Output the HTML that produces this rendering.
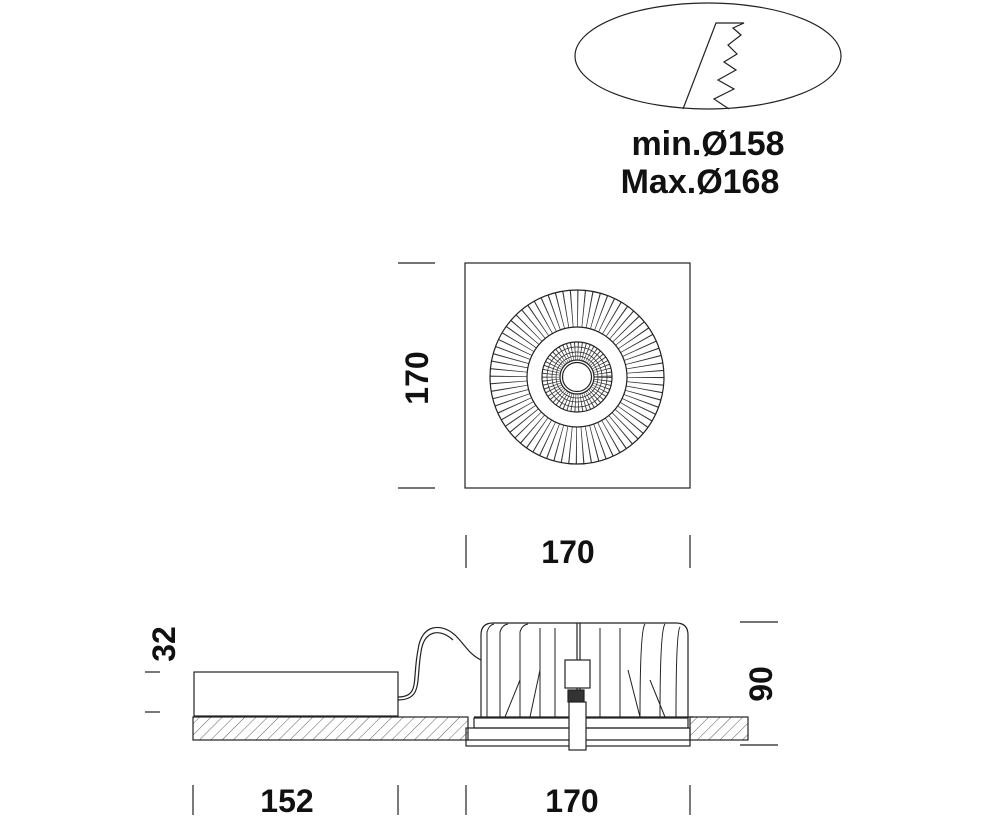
<!DOCTYPE html>
<html><head><meta charset="utf-8"><style>
html,body{margin:0;padding:0;background:#fff;width:986px;height:835px;overflow:hidden}
svg{display:block}
text{font-family:"Liberation Sans",sans-serif;font-weight:bold;fill:#111}
</style></head><body>
<svg width="986" height="835" viewBox="0 0 986 835" xmlns="http://www.w3.org/2000/svg">
<defs>
<pattern id="h" width="8" height="8" patternUnits="userSpaceOnUse" patternTransform="rotate(45)">
<line x1="0" y1="0" x2="0" y2="8" stroke="#333" stroke-width="0.8"/>
</pattern>
</defs>
<g fill="none" stroke="#222" stroke-width="1.2">
<ellipse cx="708" cy="56" rx="133" ry="53"/>
<polyline points="683,109 716,23 744,23 733,28 741,35 728,45 737,54 724,62 736,70 718,80 734,89 714,99 729,109"/>
<rect x="465" y="263" width="225" height="225"/>
<circle cx="577" cy="377" r="68.5" stroke-width="37" stroke-dasharray="0.9 5.08" stroke="#333"/>
<circle cx="577" cy="377" r="87"/>
<circle cx="577" cy="377" r="50" fill="#fff"/>
<circle cx="577" cy="377" r="26" stroke-width="18" stroke-dasharray="0.8 2.2" stroke="#444"/>
<circle cx="577" cy="377" r="35"/>
<circle cx="577" cy="377" r="30" stroke-width="0.7"/>
<circle cx="577" cy="377" r="25" stroke-width="0.7"/>
<circle cx="577" cy="377" r="21" stroke-width="0.7"/>
<circle cx="577" cy="377" r="17" fill="#fff"/>
<circle cx="577" cy="377" r="14.5"/>
<line x1="398" y1="263" x2="435" y2="263"/>
<line x1="398" y1="488" x2="435" y2="488"/>
<line x1="466" y1="535" x2="466" y2="568"/>
<line x1="690" y1="535" x2="690" y2="568"/>
<rect x="193" y="717" width="275" height="23" fill="url(#h)"/>
<rect x="690" y="717" width="58" height="23" fill="url(#h)"/>
<rect x="194" y="672" width="204" height="44" fill="#fff"/>
<path d="M398,697 C420,697 412,680 418,650 C421,625 440,622 455,635 C465,645 470,655 481,660"/>
<path d="M398,700 C423,700 416,680 421,652 C424,630 440,628 453,640"/>
<path d="M481,717 L481,635 Q481,623 493,623 L676,623 Q688,623 688,635 L688,717"/>
<line x1="474" y1="717" x2="693" y2="717"/>
<rect x="474" y="718" width="214" height="10"/>
<rect x="466" y="728" width="224" height="18"/>
<line x1="466" y1="740" x2="690" y2="740"/>
<g stroke-width="1">
<path d="M487,717 L487,632 Q489,625 494,624"/>
<path d="M500,717 L500,632 Q502,625 508,624"/>
<path d="M520,717 L520,632 Q522,625 528,624"/>
<path d="M540,717 L540,628"/><path d="M555,717 L555,628"/>
<path d="M600,717 L600,628"/><path d="M620,717 L620,628"/>
<path d="M640,717 Q640,630 645,624"/><path d="M660,717 Q660,630 665,624"/>
<path d="M676,717 Q676,632 680,627"/>
<line x1="505" y1="717" x2="520" y2="680"/>
<line x1="530" y1="717" x2="540" y2="670"/>
<line x1="640" y1="717" x2="628" y2="670"/>
<line x1="665" y1="717" x2="650" y2="680"/>
</g>
<line x1="577" y1="623" x2="577" y2="690"/>
<line x1="580" y1="623" x2="580" y2="690"/>
<rect x="565" y="660" width="25" height="28" fill="#fff"/>
<rect x="568" y="690" width="16" height="12" fill="#333"/>
<rect x="569" y="702" width="17" height="48" fill="#fff"/>
<line x1="145" y1="672" x2="160" y2="672"/>
<line x1="145" y1="712" x2="160" y2="712"/>
<line x1="740" y1="622" x2="778" y2="622"/>
<line x1="740" y1="745" x2="778" y2="745"/>
<line x1="193" y1="785" x2="193" y2="815"/>
<line x1="398" y1="785" x2="398" y2="815"/>
<line x1="466" y1="785" x2="466" y2="815"/>
<line x1="690" y1="785" x2="690" y2="815"/>
</g>
<text x="708" y="155" font-size="34" text-anchor="middle">min.Ø158</text>
<text x="700" y="193" font-size="34" text-anchor="middle">Max.Ø168</text>
<text x="568" y="563" font-size="32" text-anchor="middle">170</text>
<text transform="translate(428,378) rotate(-90)" font-size="32" text-anchor="middle">170</text>
<text transform="translate(175,644) rotate(-90)" font-size="32" text-anchor="middle">32</text>
<text transform="translate(772,684) rotate(-90)" font-size="32" text-anchor="middle">90</text>
<text x="287" y="812" font-size="32" text-anchor="middle">152</text>
<text x="572" y="812" font-size="32" text-anchor="middle">170</text>
</svg>
</body></html>
